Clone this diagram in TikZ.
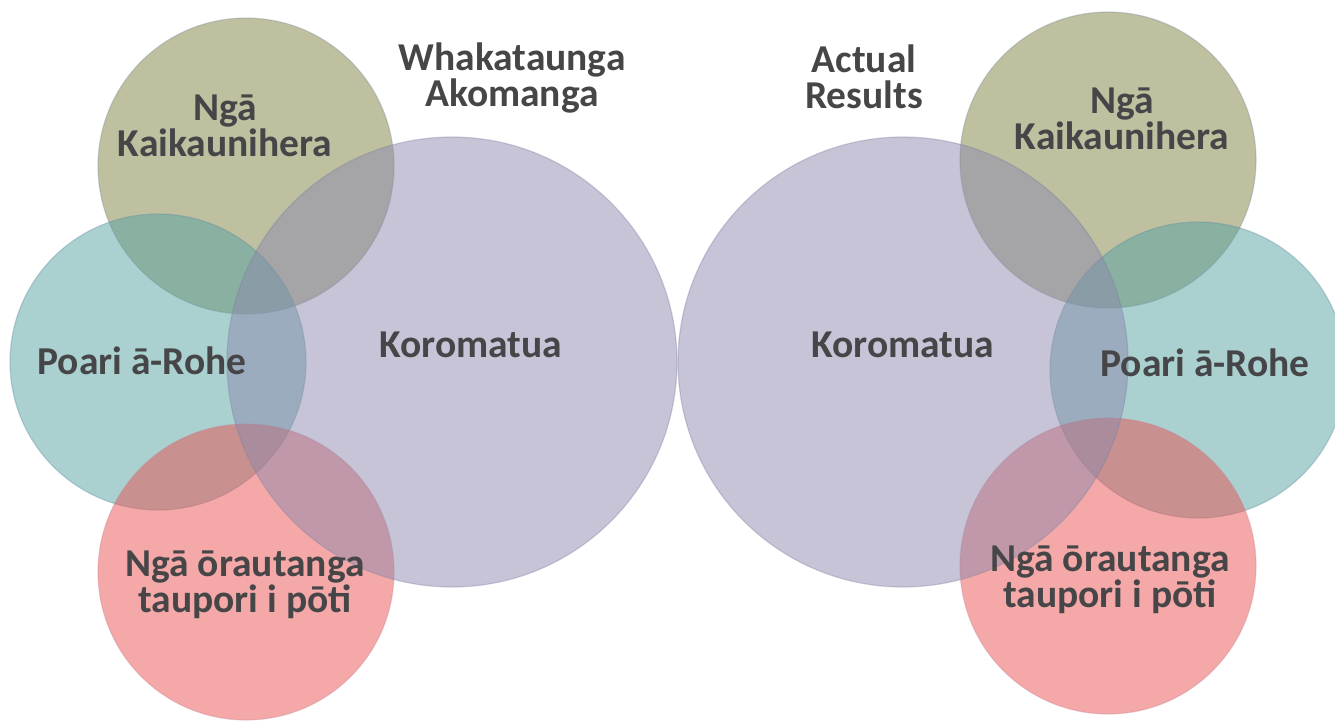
\documentclass[tikz,border=0pt]{standalone}
\usepackage{fontspec}
\setmainfont{Carlito}
\begin{document}
\begin{tikzpicture}[x=1pt,y=-1pt,
  venn/.style={circle, minimum size=#1, inner sep=0pt, fill opacity=0.5, draw opacity=0.35, line width=1.2pt},
  olivec/.style={fill={rgb,255:red,125;green,129;blue,65}, draw={rgb,255:red,125;green,140;blue,150}},
  tealc/.style={fill={rgb,255:red,85;green,161;blue,161}, draw={rgb,255:red,100;green,140;blue,160}},
  pinkc/.style={fill={rgb,255:red,233;green,81;blue,81}, draw={rgb,255:red,200;green,130;blue,150}},
  lavc/.style={fill={rgb,255:red,141;green,137;blue,173}, draw={rgb,255:red,120;green,130;blue,160}},
  lbl/.style={font=\fontsize{39.5}{36}\selectfont\bfseries, text={rgb,255:red,70;green,70;blue,72}, align=center, inner sep=0pt}]
\useasboundingbox (0,0) rectangle (1335,720);
% left group
\node[venn=296pt, olivec] (lk) at (246,166) {};
\node[venn=296pt, tealc] (lp) at (158,362) {};
\node[venn=296pt, pinkc] (ln) at (246,572) {};
\node[venn=450pt, lavc] (lm) at (452,362) {};
% right group
\node[venn=296pt, olivec] (rk) at (1108,160) {};
\node[venn=296pt, tealc] (rp) at (1198,370) {};
\node[venn=296pt, pinkc] (rn) at (1108,566) {};
\node[venn=450pt, lavc] (rm) at (903,362) {};
% labels
\node[lbl] (tl) at (512,78) {Whakataunga\\Akomanga};
\node[lbl] (tr) at (864,77) {Actual\\Results};
\node[lbl] (lkt) at (225,126) {Ngā\\Kaikaunihera};
\node[lbl] (lmt) at (471,345) {Koromatua};
\node[lbl] (lpt) at (142,361) {Poari ā-Rohe};
\node[lbl] (lnt) at (245,585) {Ngā ōrautanga\\taupori i pōti};
\node[lbl] (rkt) at (1122,119) {Ngā\\Kaikaunihera};
\node[lbl] (rmt) at (903,345) {Koromatua};
\node[lbl] (rpt) at (1205,363) {Poari ā-Rohe};
\node[lbl] (rnt) at (1110,580) {Ngā ōrautanga\\taupori i pōti};
\end{tikzpicture}
\end{document}
